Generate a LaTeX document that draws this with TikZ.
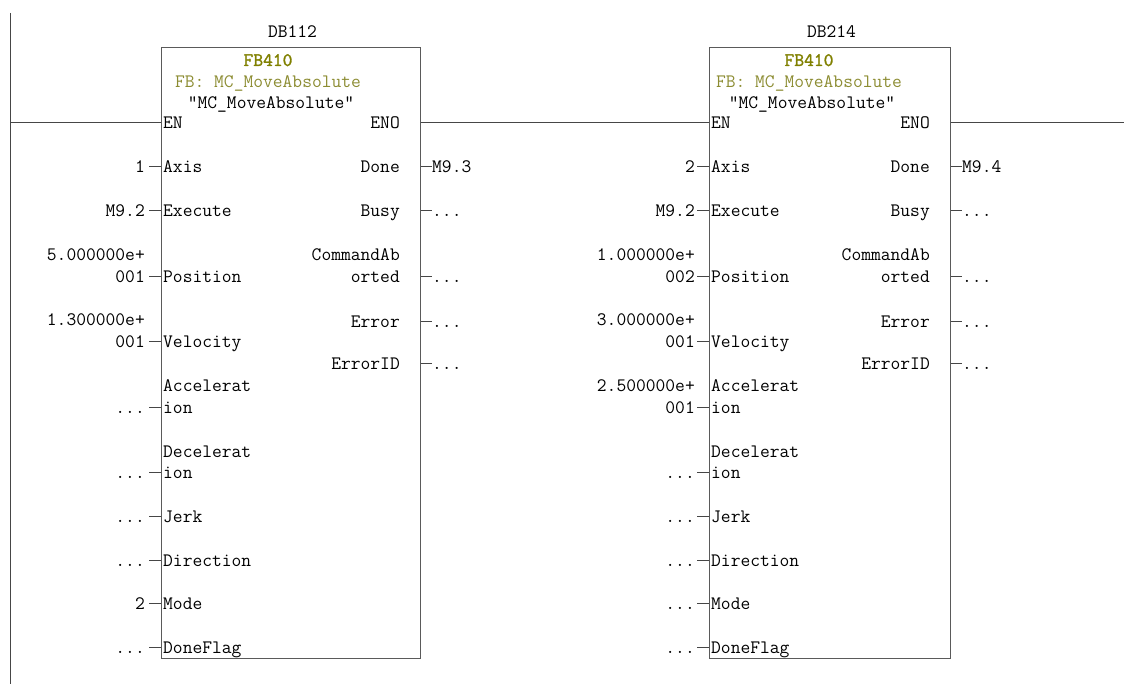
\documentclass[tikz,border=0pt]{standalone}
\usepackage{fontspec}
\newfontfamily\plcfont{Latin Modern Mono}
\newfontfamily\plcbold{Latin Modern Mono}[FakeBold=1.6]
\newcommand\plcnone{...}
\definecolor{wirecol}{RGB}{70,70,70}
\definecolor{boxcol}{RGB}{90,90,90}
\definecolor{fbolive}{RGB}{128,128,0}
\definecolor{fbtype}{RGB}{140,140,50}
\begin{document}
\begin{tikzpicture}[x=1pt,y=-1pt,
  pin/.style={font=\plcfont\fontsize{19}{22}\selectfont, inner sep=0pt, text=black},
  wire/.style={draw=wirecol, line width=1pt},
  fbbox/.style={draw=boxcol, line width=1.4pt, fill=none, inner sep=0pt, anchor=north west},
  fbname/.style={pin, font=\plcbold\fontsize{19}{22}\selectfont, text=fbolive},
  fbtypename/.style={pin, text=fbtype}]
\useasboundingbox (0,0) rectangle (1124,684);

% left power rail
\coordinate (railtop) at (10,13);
\coordinate (railbot) at (10,684);
\draw[wire] (railtop) -- (railbot);

% the two function blocks
\foreach \b/\L/\R/\C/\db in {b1/161/420/268/DB112, b2/709/950/809/DB214} {
  \node[fbbox, minimum width=\R-\L, minimum height=611] (\b) at (\L,47) {};
  \node[pin, anchor=base] (\b-db) at ({(\L+\R)/2+2},38) {\db};
  \node[fbname, anchor=base] (\b-fb) at (\C,66) {FB410};
  \node[fbtypename, anchor=base] (\b-type) at (\C,88) {FB: MC\_MoveAbsolute};
  \node[pin, anchor=base] (\b-sym) at (\C+3,109) {"MC\_MoveAbsolute"};
  \node[pin, anchor=base west] (\b-en) at (\L+2,129) {EN};
  \node[pin, anchor=base east] (\b-eno) at (\R-20,129) {ENO};
  % input pins
  \foreach \n/\y/\t in {axis/167/Axis, exec/211/Execute, pos/277/Position,
      vel/342/Velocity, acc/407/ion, dec/472/ion, jerk/516/Jerk,
      dir/560/Direction, mode/603/Mode, flag/647/DoneFlag} {
    \node[pin, anchor=base west] (\b-\n) at (\L+2,\y+6) {\t};
    \coordinate (\b-\n-tip) at (\L-12,\y);
    \draw[wire] (\b-\n-tip) -- (\b-\n-tip -| \b.west);
  }
  \node[pin, anchor=base west] (\b-acc-a) at (\L+2,391) {Accelerat};
  \node[pin, anchor=base west] (\b-dec-a) at (\L+2,457) {Decelerat};
  % output pins
  \foreach \n/\y/\t in {done/167/Done, busy/211/Busy, abort/277/orted,
      err/322/Error, errid/364/ErrorID} {
    \node[pin, anchor=base east] (\b-\n) at (\R-20,\y+6) {\t};
    \coordinate (\b-\n-tip) at (\R+12,\y);
    \draw[wire] (\b-\n-tip -| \b.east) -- (\b-\n-tip);
  }
  \node[pin, anchor=base east] (\b-abort-a) at (\R-20,261) {CommandAb};
  % unconnected outputs
  \foreach \n/\y in {busy/211, abort/277, err/322, errid/364} {
    \node[pin, anchor=base west] (\b-\n-val) at (\R+12,\y+6) {\plcnone};
  }
}

% actual parameters, first block
\foreach \n/\y/\v in {axis/167/1, exec/211/M9.2, pos/277/001, vel/342/001,
    acc/407/\plcnone, dec/472/\plcnone, jerk/516/\plcnone, dir/560/\plcnone,
    mode/603/2, flag/647/\plcnone} {
  \node[pin, anchor=base east] (b1-\n-val) at (145,\y+6) {\v};
}
\node[pin, anchor=base east] (b1-pos-val-a) at (145,261) {5.000000e+};
\node[pin, anchor=base east] (b1-vel-val-a) at (145,326) {1.300000e+};
\node[pin, anchor=base west] (b1-done-val) at (432,173) {M9.3};

% actual parameters, second block
\foreach \n/\y/\v in {axis/167/2, exec/211/M9.2, pos/277/002, vel/342/001,
    acc/407/001, dec/472/\plcnone, jerk/516/\plcnone, dir/560/\plcnone,
    mode/603/\plcnone, flag/647/\plcnone} {
  \node[pin, anchor=base east] (b2-\n-val) at (695,\y+6) {\v};
}
\node[pin, anchor=base east] (b2-pos-val-a) at (695,261) {1.000000e+};
\node[pin, anchor=base east] (b2-vel-val-a) at (695,326) {3.000000e+};
\node[pin, anchor=base east] (b2-acc-val-a) at (695,391) {2.500000e+};
\node[pin, anchor=base west] (b2-done-val) at (962,173) {M9.4};

% enable chain
\coordinate (railen) at (10,123);
\coordinate (rungend) at (1124,123);
\draw[wire] (railen) -- (railen -| b1.west);
\draw[wire] (b1.east |- railen) -- (b2.west |- railen);
\draw[wire] (b2.east |- railen) -- (rungend);
\end{tikzpicture}
\end{document}
